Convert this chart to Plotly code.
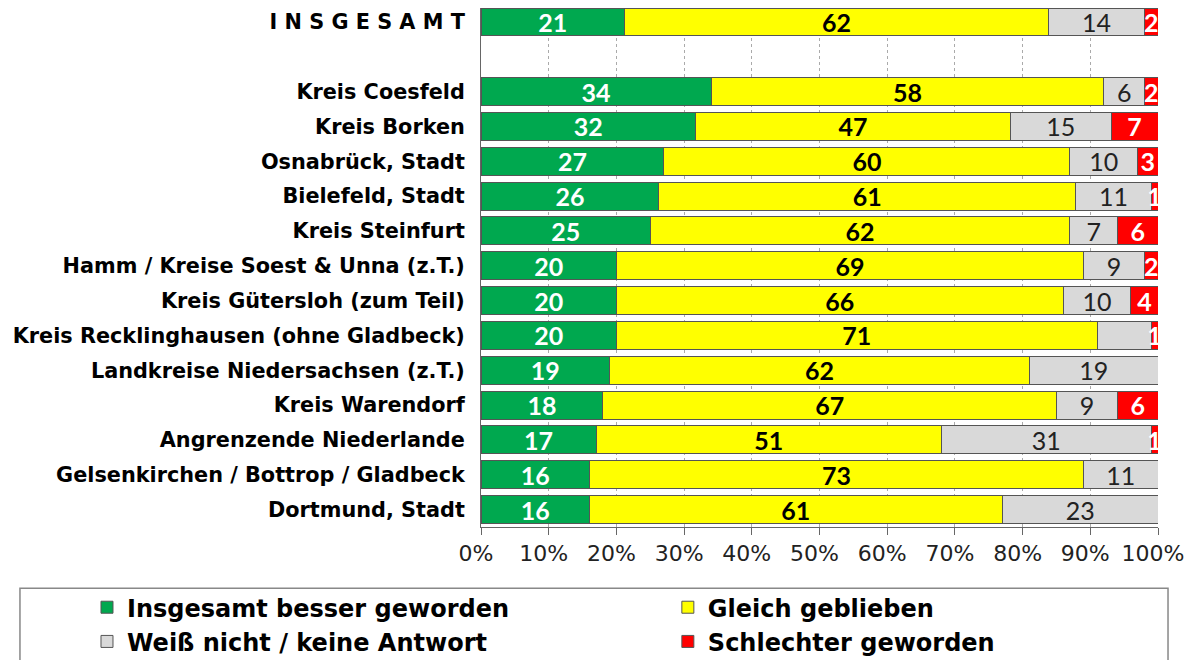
import plotly.graph_objects as go

# Regionen (von oben nach unten), Leerzeile nach INSGESAMT
regions = [
    "I N S G E S A M T",
    " ",
    "Kreis Coesfeld",
    "Kreis Borken",
    "Osnabrück, Stadt",
    "Bielefeld, Stadt",
    "Kreis Steinfurt",
    "Hamm / Kreise Soest & Unna (z.T.)",
    "Kreis Gütersloh (zum Teil)",
    "Kreis Recklinghausen (ohne Gladbeck)",
    "Landkreise Niedersachsen (z.T.)",
    "Kreis Warendorf",
    "Angrenzende Niederlande",
    "Gelsenkirchen / Bottrop / Gladbeck",
    "Dortmund, Stadt",
]

besser = [21, 0, 34, 32, 27, 26, 25, 20, 20, 20, 19, 18, 17, 16, 16]
gleich = [62, 0, 58, 47, 60, 61, 62, 69, 66, 71, 62, 67, 51, 73, 61]
weiss_nicht = [14, 0, 6, 15, 10, 11, 7, 9, 10, 8, 19, 9, 31, 11, 23]
schlechter = [2, 0, 2, 7, 3, 1, 6, 2, 4, 1, 0, 6, 1, 0, 0]

# Beschriftung in den Balken (bei Recklinghausen fehlt "weiß nicht" im Original)
besser_txt = [str(v) if v else "" for v in besser]
gleich_txt = [str(v) if v else "" for v in gleich]
weiss_txt = [str(v) if v else "" for v in weiss_nicht]
weiss_txt[9] = ""
schlechter_txt = [str(v) if v else "" for v in schlechter]

series = [
    ("Insgesamt besser geworden", besser, besser_txt, "#00A84F", "white", "bold", "legend"),
    ("Gleich geblieben", gleich, gleich_txt, "#FFFF00", "black", "bold", "legend2"),
    ("Weiß nicht / keine Antwort", weiss_nicht, weiss_txt, "#D9D9D9", "#222222", "normal", "legend"),
    ("Schlechter geworden", schlechter, schlechter_txt, "#FF0000", "white", "bold", "legend2"),
]

fig = go.Figure()
for name, vals, txt, col, tcol, weight, leg in series:
    fig.add_trace(go.Bar(
        y=regions,
        x=vals,
        name=name,
        orientation="h",
        text=txt,
        textposition="inside",
        insidetextanchor="middle",
        textangle=0,
        textfont=dict(family="Lato", size=25, color=tcol, weight=weight),
        marker=dict(color=col, line=dict(color="#555555", width=1)),
        legend=leg,
    ))

# Rahmen der Legende
fig.add_shape(type="rect", xref="paper", yref="paper",
              x0=-0.681, x1=1.0148, y0=-0.30, y1=-0.118,
              line=dict(color="#888888", width=1.5), fillcolor="white", layer="below")

legend_font = dict(family="DejaVu Sans", size=24, color="black", weight="bold")

fig.update_layout(
    width=1197,
    height=660,
    margin=dict(l=473, r=47, t=0, b=141),
    barmode="stack",
    barnorm="percent",
    bargap=0.2,
    plot_bgcolor="white",
    paper_bgcolor="white",
    uniformtext=dict(minsize=25, mode="show"),
    legend=dict(x=-0.582, y=-0.112, xanchor="left", yanchor="top", traceorder="normal",
                bgcolor="rgba(0,0,0,0)", font=legend_font, tracegroupgap=0),
    legend2=dict(x=0.276, y=-0.112, xanchor="left", yanchor="top", traceorder="normal",
                 bgcolor="rgba(0,0,0,0)", font=legend_font, tracegroupgap=0),
)

fig.update_xaxes(
    range=[0, 100],
    tickvals=[0, 10, 20, 30, 40, 50, 60, 70, 80, 90, 100],
    ticktext=["0%", "10%", "20%", "30%", "40%", "50%", "60%", "70%", "80%", "90%", "100%"],
    tickfont=dict(family="DejaVu Sans", size=22, color="#222222"),
    ticks="outside", ticklen=7, tickcolor="#666666",
    ticklabelshift=-5,
    showline=True, linecolor="#666666", mirror=True,
    showgrid=True, gridcolor="#AAAAAA", griddash="dot", gridwidth=1,
    zeroline=False,
)

fig.update_yaxes(
    categoryorder="array",
    categoryarray=regions[::-1],
    autorange=False,
    range=[-0.5, len(regions) - 0.6],
    tickfont=dict(family="DejaVu Sans", size=20.8, color="black", weight="bold"),
    ticklabelstandoff=11,
    showline=True, linecolor="#666666",
    ticks="",
)

fig.write_html("out.html")
